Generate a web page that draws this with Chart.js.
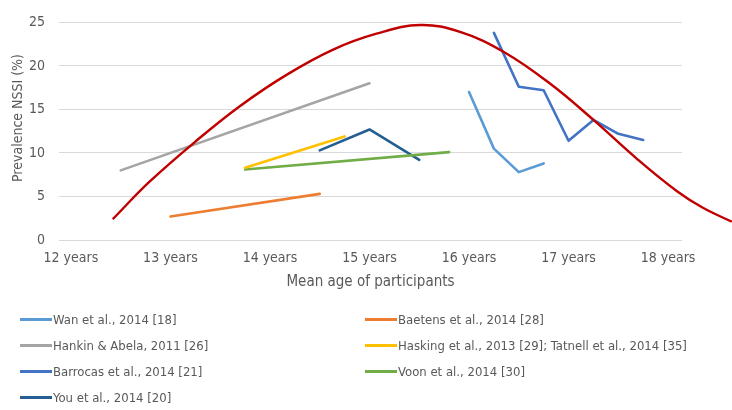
<!DOCTYPE html>
<html>
<head>
<meta charset="utf-8">
<title>Prevalence NSSI by mean age</title>
<script src="https://cdn.jsdelivr.net/npm/chart.js@4.4.1/dist/chart.umd.min.js"></script>
<style>
  html, body { margin: 0; padding: 0; background: #fff; }
  #wrap { position: relative; width: 732px; height: 410px; }
  #chart { position: absolute; left: 0; top: 0; }
  .lg-item {
    position: absolute; display: flex; align-items: center; white-space: nowrap;
    font: 13px 'Liberation Sans Narrow', 'DejaVu Sans Condensed', sans-serif; color: #595959;
  }
  .lg-item i { display: inline-block; width: 32px; height: 3px; margin-right: 1px; }
</style>
</head>
<body>
<div id="wrap">
  <canvas id="chart" width="732" height="410"></canvas>
  <div id="legend"></div>
</div>
<script>
// studies: mean age of participants (years) and NSSI prevalence (%)
var wanAge      = [16, 16.25, 16.5, 16.75];
var wanPrev     = [17, 10.5, 7.8, 8.8];
var baetensAge  = [13, 14.5];
var baetensPrev = [2.7, 5.3];
var hankinAge   = [12.5, 15];
var hankinPrev  = [8, 18];
var haskingAge  = [13.75, 14.75];
var haskingPrev = [8.3, 11.9];
var barrocasAge  = [16.25, 16.5, 16.75, 17, 17.25, 17.5, 17.75];
var barrocasPrev = [23.8, 17.6, 17.2, 11.4, 13.8, 12.2, 11.5];
var voonAge     = [13.75, 15.8];
var voonPrev    = [8.1, 10.1];
var youAge      = [14.5, 15, 15.5];
var youPrev     = [10.3, 12.7, 9.2];

// hand drawn trend over all studies, runs past the last tick
var trendAge  = [12.42, 12.79, 13.26, 13.7, 14.17, 14.64, 15.07, 15.51, 15.91, 16.35, 16.81, 17.25, 17.69, 18.09, 18.35, 18.64];
var trendPrev = [2.4, 6.7, 11.4, 15.4, 19.0, 21.9, 23.7, 24.7, 23.9, 21.6, 18.0, 13.8, 9.3, 5.6, 3.7, 2.1];

var yearTicks = [12, 13, 14, 15, 16, 17, 18];
var X_MIN = 11.88, X_MAX = 18.14;

var FONT = "'Liberation Sans Narrow', 'DejaVu Sans Condensed', sans-serif";
var GREY = '#595959';

function pts(xs, ys) {
  return xs.map(function (x, i) { return { x: x, y: ys[i] }; });
}

function study(label, color, xs, ys) {
  return {
    label: label, data: pts(xs, ys), borderColor: color, backgroundColor: color,
    borderWidth: 2.6, pointRadius: 0, borderCapStyle: 'round', borderJoinStyle: 'round',
    tension: 0, showLine: true
  };
}

var datasets = [
  study('Wan et al., 2014 [18]', '#5B9BD5', wanAge, wanPrev),
  study('Baetens et al., 2014 [28]', '#ED7D31', baetensAge, baetensPrev),
  study('Hankin & Abela, 2011 [26]', '#A5A5A5', hankinAge, hankinPrev),
  study('Hasking et al., 2013 [29]; Tatnell et al., 2014 [35]', '#FFC000', haskingAge, haskingPrev),
  study('Barrocas et al., 2014 [21]', '#4472C4', barrocasAge, barrocasPrev),
  study('Voon et al., 2014 [30]', '#70AD47', voonAge, voonPrev),
  study('You et al., 2014 [20]', '#255E91', youAge, youPrev),
  {
    label: 'trend', data: pts(trendAge, trendPrev), borderColor: '#C00000',
    borderWidth: 2.4, pointRadius: 0, tension: 0.4,
    clip: false, order: -1, showLine: true, noLegend: true
  }
];

// y title drawn by hand so it can sit a little above the middle
var yTitle = {
  id: 'yTitle',
  afterDraw: function (chart) {
    var ctx = chart.ctx;
    ctx.save();
    ctx.translate(18, 118);
    ctx.rotate(-Math.PI / 2);
    ctx.font = '14px ' + FONT;
    ctx.fillStyle = GREY;
    ctx.textAlign = 'center';
    ctx.textBaseline = 'middle';
    ctx.fillText('Prevalence NSSI (%)', 0, 0);
    ctx.restore();
  }
};

new Chart(document.getElementById('chart'), {
  type: 'scatter',
  data: { datasets: datasets },
  plugins: [yTitle],
  options: {
    responsive: false,
    animation: false,
    layout: { padding: { left: 0, right: 50, top: 20, bottom: 116 } },
    plugins: { legend: { display: false }, tooltip: { enabled: false } },
    scales: {
      x: {
        type: 'linear', bounds: 'data',
        // range set here rather than min/max so the trend line is not cut at the edge
        afterDataLimits: function (s) { s.min = X_MIN; s.max = X_MAX; },
        afterBuildTicks: function (s) {
          s.min = X_MIN; s.max = X_MAX;
          s.ticks = yearTicks.map(function (v) { return { value: v }; });
        },
        afterFit: function (s) { s.height = 54; },
        grid: { display: false, drawTicks: false },
        border: { display: false },
        ticks: { padding: 10, color: GREY, font: { family: FONT, size: 14 },
                 callback: function (v) { return v + ' years'; } },
        title: { display: true, text: 'Mean age of participants', color: GREY,
                 font: { family: FONT, size: 15 }, padding: { top: 0, bottom: 3 } }
      },
      y: {
        min: 0, max: 25,
        afterFit: function (s) { s.width = 59; },
        grid: { color: '#D9D9D9', lineWidth: 1, drawTicks: false },
        border: { display: false },
        ticks: { stepSize: 5, padding: 14, color: GREY, font: { family: FONT, size: 14 } }
      }
    }
  }
});

// legend in two columns, filled row by row
var legend = document.getElementById('legend');
var colLeft = [20, 365], rowTop = [312, 338, 364, 390];
datasets.filter(function (d) { return !d.noLegend; }).forEach(function (d, i) {
  var item = document.createElement('div');
  item.className = 'lg-item';
  item.style.left = colLeft[i % 2] + 'px';
  item.style.top = rowTop[Math.floor(i / 2)] + 'px';
  item.innerHTML = '<i style="background:' + d.borderColor + '"></i><span></span>';
  item.querySelector('span').textContent = d.label;
  legend.appendChild(item);
});
</script>
</body>
</html>
